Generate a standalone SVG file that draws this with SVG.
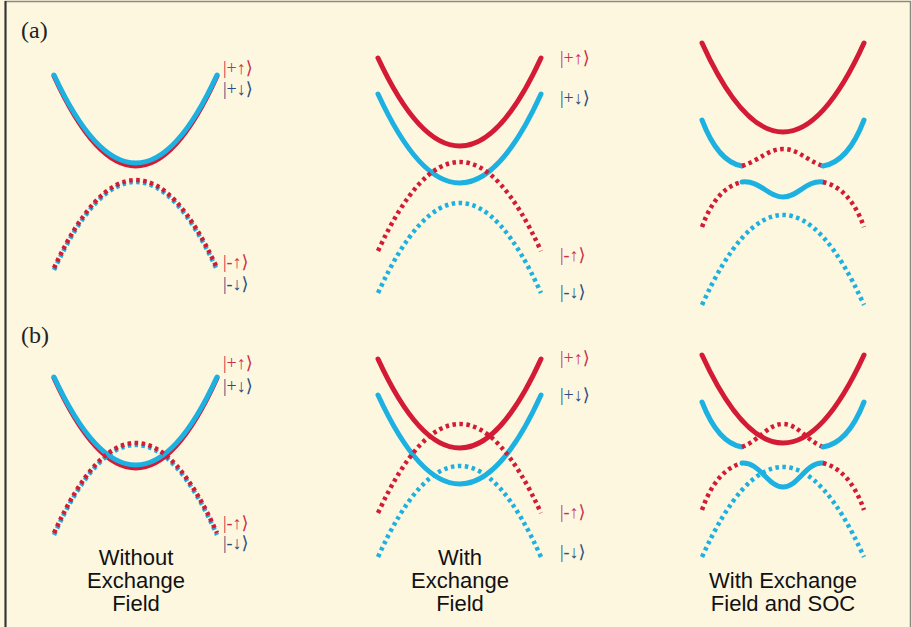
<svg xmlns="http://www.w3.org/2000/svg" width="912" height="627" viewBox="0 0 912 627">
<style>
.bg{fill:#FDF7E0}
.s{fill:none;stroke-width:5;stroke-linecap:round}
.d{fill:none;stroke-width:4.5;stroke-dasharray:3.5 3.5}
.r{stroke:#D31B36}
.b{stroke:#1CB1E0}
.lr{fill:#C9304A;font-family:"Liberation Serif","DejaVu Serif",serif;font-size:18px}
.lb{fill:#2B4E82;font-family:"Liberation Serif","DejaVu Serif",serif;font-size:18px}
.pl{fill:#222;font-family:"Liberation Serif",serif;font-size:24px}
.cap{fill:#111;font-family:"Liberation Sans",Arial,sans-serif;font-size:22px;text-anchor:middle}
</style>
<rect class="bg" x="0" y="0" width="912" height="627"/>
<rect x="5.5" y="1.5" width="905" height="630" fill="none" stroke="#8A8A80" stroke-width="1.5"/>
<line x1="5.5" y1="1" x2="5.5" y2="627" stroke="#333" stroke-width="2"/>
<text class="pl" x="21" y="38">(a)</text>
<text class="pl" x="21" y="343">(b)</text>
<g id="connectors">
<path class="s r" d="M54,76 Q136,256 217,76"/>
<path class="s b" d="M54,75 Q136,251 217,75"/>
<path class="d b" d="M54,270 Q136,94 217,270"/>
<path class="d r" d="M54,268 Q136,92 217,268"/>
<path class="s r" d="M378,58 Q460,234 541,58"/>
<path class="s b" d="M378,94 Q460,272 541,94"/>
<path class="d r" d="M378,251 Q460,73 541,251"/>
<path class="d b" d="M378,293 Q460,113 541,293"/>
<path class="s r" d="M702,43 Q783,221 864,43"/>
<path class="s b" d="M702,120 Q718,162 742,166"/>
<path class="d r" d="M742,166 C760,160 768,149 783,149 C798,149 806,160 823,166"/>
<path class="s b" d="M823,166 Q848,162 864,120"/>
<path class="d r" d="M702,227 Q716,188 742,182"/>
<path class="s b" d="M742,182 C760,180 768,197 783,197 C798,197 806,180 823,182"/>
<path class="d r" d="M823,182 Q850,188 864,227"/>
<path class="d b" d="M702,305 Q783,125 864,305"/>
<path class="s r" d="M54,378 Q136,558 217,378"/>
<path class="s b" d="M54,377 Q136,553 217,377"/>
<path class="d b" d="M54,535 Q136,355 217,535"/>
<path class="d r" d="M54,533 Q136,353 217,533"/>
<path class="s r" d="M378,359 Q460,537 541,359"/>
<path class="s b" d="M378,395 Q460,573 541,395"/>
<path class="d r" d="M378,513 Q460,335 541,513"/>
<path class="d b" d="M378,557 Q460,375 541,557"/>
<path class="s r" d="M702,355 Q783,531 864,355"/>
<path class="s b" d="M702,402 Q718,443 742,447"/>
<path class="d r" d="M742,447 C760,440 768,424 783,424 C798,424 806,440 823,447"/>
<path class="s b" d="M823,447 Q848,443 864,402"/>
<path class="d r" d="M702,510 Q716,470 742,463"/>
<path class="s b" d="M742,463 C760,462 768,487 783,487 C798,487 806,462 823,463"/>
<path class="d r" d="M823,463 Q850,470 864,510"/>
<path class="d b" d="M702,557 Q783,377 864,557"/>
</g>
<g id="labels-a1">
<text class="lr" x="223" y="74">|+↑⟩</text>
<text class="lb" x="223" y="95">|+↓⟩</text>
<text class="lr" x="223" y="268">|-↑⟩</text>
<text class="lb" x="223" y="290">|-↓⟩</text>
</g>
<g id="labels-a2">
<text class="lr" x="560" y="64">|+↑⟩</text>
<text class="lb" x="560" y="104">|+↓⟩</text>
<text class="lr" x="560" y="261">|-↑⟩</text>
<text class="lb" x="560" y="298">|-↓⟩</text>
</g>
<g id="labels-b1">
<text class="lr" x="223" y="369">|+↑⟩</text>
<text class="lb" x="223" y="392">|+↓⟩</text>
<text class="lr" x="223" y="529">|-↑⟩</text>
<text class="lb" x="223" y="549">|-↓⟩</text>
</g>
<g id="labels-b2">
<text class="lr" x="560" y="364">|+↑⟩</text>
<text class="lb" x="560" y="401">|+↓⟩</text>
<text class="lr" x="560" y="518">|-↑⟩</text>
<text class="lb" x="560" y="558">|-↓⟩</text>
</g>
<g id="caption1">
<text class="cap" x="136" y="565">Without</text>
<text class="cap" x="136" y="588">Exchange</text>
<text class="cap" x="136" y="611">Field</text>
</g>
<g id="caption2">
<text class="cap" x="460" y="565">With</text>
<text class="cap" x="460" y="588">Exchange</text>
<text class="cap" x="460" y="611">Field</text>
</g>
<g id="caption3">
<text class="cap" x="783" y="588">With Exchange</text>
<text class="cap" x="783" y="611">Field and SOC</text>
</g>
</svg>
